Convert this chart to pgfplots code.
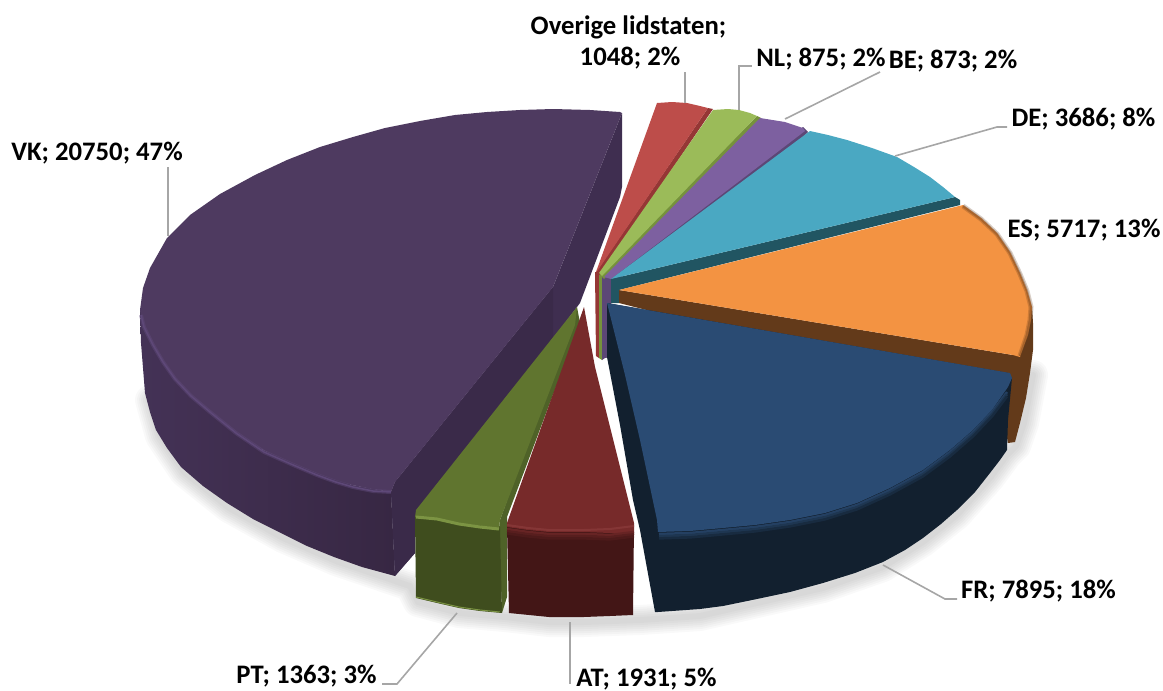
\documentclass[border=0pt]{standalone}
\usepackage{pgfplots}
\usepackage{pgfplotstable}
\usepackage{fontspec}
\setmainfont{Carlito}
\pgfplotsset{compat=1.18}
\definecolor{vkT}{HTML}{4E3A60}\definecolor{vkW}{HTML}{3F2E50}\definecolor{vkD}{HTML}{3A2A49}\definecolor{vkB}{HTML}{5E4878}
\definecolor{vkS1}{HTML}{443256}\definecolor{vkS2}{HTML}{372743}
\definecolor{ptT}{HTML}{60752F}\definecolor{ptW}{HTML}{4F6228}\definecolor{ptF}{HTML}{3F4D1E}\definecolor{ptB}{HTML}{7C9443}
\definecolor{atT}{HTML}{772A2A}\definecolor{atF}{HTML}{431616}\definecolor{atB}{HTML}{8C3C3C}
\definecolor{frT}{HTML}{2A4B73}\definecolor{frF}{HTML}{12202F}
\definecolor{esT}{HTML}{F39342}\definecolor{esW}{HTML}{633A1A}
\definecolor{deT}{HTML}{4AA8C2}\definecolor{deW}{HTML}{215562}
\definecolor{beT}{HTML}{7D60A0}\definecolor{beW}{HTML}{5C4776}
\definecolor{nlT}{HTML}{9BBB59}\definecolor{nlW}{HTML}{76923C}
\definecolor{ovT}{HTML}{BD4D4A}\definecolor{ovW}{HTML}{953735}
\definecolor{leader}{HTML}{A6A6A6}
\tikzset{
 lbl/.style={font=\fontsize{26.7}{30}\selectfont\bfseries,text=black,inner sep=0pt},
 face/.style={draw=none,fill=#1},
 ld/.style={draw=leader,line width=1.6pt},
 sh/.style={draw=black,opacity=0.024,line width=#1,line join=round,line cap=round}}
\pgfplotstableread{
x y
150 400
160 436
184 472
229 508
283 538
336 561
395 581
410 586
418 602
459 613
505 617
549 622
584 622
640 620
700 616
757 603
823 588
883 567
923 542
957 515
990 478
1007 455
1016 446
1024 423
1033 375
}\shadowfront
\pgfplotstableread{
x y
1007 392
992 412
973 432
950 452
923 472
890 490
857 505
825 515
790 522
755 527
723 530
690 533
659 534
}\frbevel
\pgfplotstableread{
x y
507 529
528 532
549 534
584 534
610 535
634 532
}\atbevel
\pgfplotstableread{
x y
963 206
981 219
997 234
1010 253
1020 274
1027 291
1031 307
1030 320
1027 335
1020 356
}\esedge
\newcommand\shadowstroke[1]{%
 \addplot[sh=30pt] table {#1};
 \addplot[sh=26pt] table {#1};
 \addplot[sh=22pt] table {#1};
 \addplot[sh=18pt] table {#1};
 \addplot[sh=14pt] table {#1};
 \addplot[sh=10pt] table {#1};
 \addplot[sh=6pt] table {#1};
}
\begin{document}
\begin{tikzpicture}
\begin{axis}[scale only axis,width=1163pt,height=691pt,xmin=0,xmax=1163,ymin=0,ymax=691,y dir=reverse,axis lines=none,clip=false]
% frame extent (invisible)
\addplot[draw=white,line width=0pt] coordinates {(0,0)(0,0.01)};
\addplot[draw=white,line width=0pt] coordinates {(1163,691)(1163,690.99)};
% shadows
\shadowstroke{\shadowfront}
% Overige / NL / BE lower strips
\addplot[face=ovW] coordinates {(595,272)(599,272)(599,358)(596,356)};
\addplot[face=nlW] coordinates {(599,273)(602,273)(602,360)(599,358)};
\addplot[face=beW] coordinates {(602,277)(611,277)(611,357)(605,358)(602,360)};
% Overige
\addplot[face=ovW] coordinates {(708,108)(713,109)(600,275)(596,272)};
\addplot[face=ovT] coordinates {(596,272)(657,103)(672,102)(687,103)(700,106)(708,108)(598,270)};
% NL
\addplot[face=nlW] coordinates {(757,116)(761,118)(604,279)(600,275)};
\addplot[face=nlT] coordinates {(599,273)(713,110)(728,109)(739,110)(750,113)(757,116)(602,276)};
% BE
\addplot[face=beW] coordinates {(803,127)(808,132)(804,136)(611,285)(604,280)};
\addplot[face=beT] coordinates {(604,277)(760,118)(785,122)(803,128)(805,131)(611,279)};
% DE
\addplot[face=deW] coordinates {(955,197)(960,200)(960,205)(619,290)(619,303)(611,303)(611,279)};
\addplot[face=deT] coordinates {(611,279)(810,131)(828,135)(847,140)(872,148)(897,157)(914,167)(930,177)(943,187)(955,197)};
% ES side + wall
\addplot[face=esW] coordinates {(619,290)(1013,355)(1025,320)(1032,307)(1033,323)(1033,350)(1030,373)(1026,398)(1020,423)(1015,442)(1008,443)(1000,400)(619,303)};
\addplot[face=esT] coordinates {(619,290)(963,205)(981,218)(997,233)(1010,252)(1020,273)(1027,290)(1032,307)(1031,320)(1028,335)(1020,357)(1013,355)};
\addplot[draw=esW,opacity=0.25,line width=5pt] table {\esedge};
\addplot[draw=esW,opacity=0.35,line width=2.5pt] table {\esedge};
% FR
\addplot[face=frF] coordinates {(607,303)(607,357)(620,425)(633,500)(640,530)(655,612)(658,612)(700,609)(723,606)(757,599)(790,592)(823,583)(855,573)(883,562)(905,550)(923,538)(941,524)(957,510)(975,492)(990,473)(1000,460)(1007,450)(1008,420)(1012,378)(1008,373)};
\addplot[face=frT] coordinates {(607,303)(1010,373)(1012,378)(1008,387)(992,410)(973,430)(950,450)(923,470)(890,488)(857,503)(825,513)(790,520)(755,525)(723,528)(690,531)(658,532)(657,520)(640,440)(625,375)};
\addplot[draw=frT!75!frF,line width=2.5pt] table {\frbevel};
\addplot[draw=frT!50!frF,line width=2.5pt,yshift=-2.2pt] table {\frbevel};
\addplot[draw=frT!25!frF,line width=2.5pt,yshift=-4.4pt] table {\frbevel};
% VK
\addplot[draw=none,left color=vkS1,right color=vkS2] coordinates {(140,310)(141,343)(145,393)(150,412)(156,430)(167,448)(181,467)(203,486)(227,503)(253,519)(281,533)(307,546)(334,557)(362,567)(395,576)(391,492)(352,485)(263,450)(174,377)};
\addplot[face=vkW] coordinates {(622,113)(622,187)(620,197)(600,250)(580,303)(577,307)(500,410)(415,520)(415,553)(395,576)(391,492)(395,482)(553,287)};
\addplot[face=vkD] coordinates {(553,287)(395,482)(391,492)(395,576)(415,553)(415,520)(500,410)(553,337)};
\addplot[face=vkT] coordinates {(622,113)(620,112)(590,110)(553,109)(520,110)(487,112)(455,115)(420,121)(385,128)(353,137)(320,147)(287,160)(255,175)(220,194)(190,215)(167,238)(150,268)(143,288)(140,310)(143,325)(152,343)(162,360)(174,377)(190,394)(209,410)(235,431)(263,450)(290,462)(316,473)(335,480)(352,485)(372,489)(391,492)(395,482)(553,287)};
\addplot[draw=vkB,opacity=0.5,line width=4pt] coordinates {(141,315)(144,327)(153,345)(163,362)(175,379)(191,396)(210,412)(236,433)(264,452)(291,464)(317,475)(336,482)(353,487)(373,491)(391,492)};
\addplot[draw=vkB,line width=1.5pt] coordinates {(141,315)(144,327)(153,345)(163,362)(175,379)(191,396)(210,412)(236,433)(264,452)(291,464)(317,475)(336,482)(353,487)(373,491)(391,492)};
% PT
\addplot[face=ptW] coordinates {(577,307)(580,323)(507,517)(507,597)(502,613)(499,528)(500,520)};
\addplot[face=ptF] coordinates {(415,517)(416,598)(437,603)(459,608)(480,611)(502,613)(500,527)};
\addplot[face=ptT] coordinates {(577,307)(575,325)(500,520)(499,528)(459,523)(415,517)(416,510)};
\addplot[draw=ptB,line width=3pt] coordinates {(416,517)(437,519)(459,524)(480,527)(499,529)};
\addplot[draw=ptB,line width=1pt] coordinates {(416,597)(437,602)(459,607)(480,610)(500,612)};
% AT
\addplot[face=atF] coordinates {(507,527)(509,613)(529,615)(549,617)(584,617)(610,616)(633,615)(634,525)};
\addplot[face=atT] coordinates {(584,307)(595,367)(634,523)(634,535)(610,533)(584,532)(549,532)(528,530)(507,527)(507,523)};
\addplot[draw=atT!70!atF,line width=2.5pt] table {\atbevel};
\addplot[draw=atT!40!atF,line width=2.5pt,yshift=-2.2pt] table {\atbevel};
\addplot[draw=atT!20!atF,line width=2.5pt,yshift=-4.4pt] table {\atbevel};
\addplot[draw=atB,opacity=0.7,line width=2pt] coordinates {(507,525)(528,528)(549,530)(584,530)(610,529)(634,526)};
% leaders
\addplot[ld] coordinates {(168,167)(168,236)};
\addplot[ld] coordinates {(457,613)(397,684)(382,684)};
\addplot[ld] coordinates {(570,622)(570,684)};
\addplot[ld] coordinates {(883,565)(945,599)(957,599)};
\addplot[ld] coordinates {(895,156)(997,127)(1007,127)};
\addplot[ld] coordinates {(785,119)(880,72)};
\addplot[ld] coordinates {(739,110)(739,66)(752,66)};
\addplot[ld] coordinates {(685,103)(685,72)};
% labels
\node[lbl] at (axis cs:97,153) {VK; 20750; 47\%};
\node[lbl] at (axis cs:628.5,27) {Overige lidstaten;};
\node[lbl] at (axis cs:630,58) {1048; 2\%};
\node[lbl] at (axis cs:821,59) {NL; 875; 2\%};
\node[lbl] at (axis cs:953,61) {BE; 873; 2\%};
\node[lbl] at (axis cs:1083.5,119) {DE; 3686; 8\%};
\node[lbl] at (axis cs:1084,230) {ES; 5717; 13\%};
\node[lbl] at (axis cs:1038.5,591) {FR; 7895; 18\%};
\node[lbl] at (axis cs:646.5,679) {AT; 1931; 5\%};
\node[lbl] at (axis cs:306.5,676) {PT; 1363; 3\%};
\end{axis}
\end{tikzpicture}
\end{document}
